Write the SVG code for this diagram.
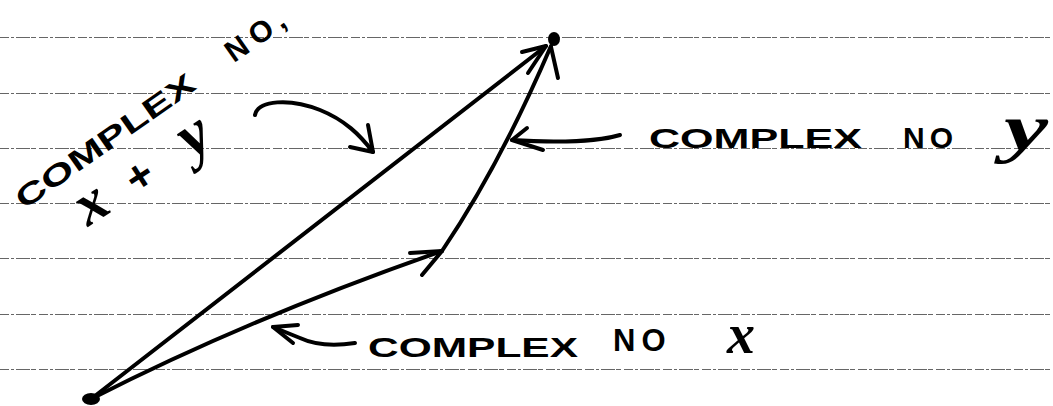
<svg xmlns="http://www.w3.org/2000/svg" width="1053" height="406" viewBox="0 0 1053 406">
  <style>
    .rule { stroke: #666; stroke-width: 1; stroke-dasharray: 9 2 3 2 14 1 5 3; fill: none; }
    .ink { stroke: #000; stroke-width: 4; fill: none; stroke-linecap: round; stroke-linejoin: round; }
    .lbl { font-family: "Liberation Sans", Arial, sans-serif; font-weight: bold; fill: #000; }
    .var { font-family: "Liberation Serif", "Times New Roman", serif; font-style: italic; font-weight: bold; fill: #000; }
  </style>
  <rect width="1053" height="406" fill="#fff"/>

  <g id="ruled-lines">
    <line class="rule" x1="0" y1="37.5" x2="1053" y2="37.5"/>
    <line class="rule" x1="0" y1="93.5" x2="1053" y2="93.5"/>
    <line class="rule" x1="0" y1="148.5" x2="1053" y2="148.5"/>
    <line class="rule" x1="0" y1="203.5" x2="1053" y2="203.5"/>
    <line class="rule" x1="0" y1="258.5" x2="1053" y2="258.5"/>
    <line class="rule" x1="0" y1="314.5" x2="1053" y2="314.5"/>
    <line class="rule" x1="0" y1="369.5" x2="1053" y2="369.5"/>
  </g>

  <g id="connectors">
    <!-- vector x+y -->
    <path class="ink" d="M91,399 Q300,238 546,46"/>
    <polyline class="ink" points="522,52 546,46 528,73"/>
    <!-- vector x -->
    <path class="ink" d="M91,399 Q250,318 442,251"/>
    <polyline class="ink" points="410,253 442,251 422,275"/>
    <!-- vector y -->
    <path class="ink" d="M442,251 Q500,165 551,46"/>
    <line class="ink" x1="551" y1="47" x2="558" y2="78"/>
    <!-- leader to y -->
    <path class="ink" d="M620,135 C600,141 560,143 512,140"/>
    <polyline class="ink" points="527,128 512,140 543,150"/>
    <!-- leader to x -->
    <path class="ink" d="M355,343 C335,346 315,345 300,338 Q285,332 273,327"/>
    <polyline class="ink" points="298,325 273,327 293,343"/>
    <!-- leader to x+y -->
    <path class="ink" d="M255,115 C258,100 290,98 320,110 C345,120 360,135 373,152"/>
    <polyline class="ink" points="368,125 373,152 350,147"/>
  </g>

  <g id="origin">
    <ellipse cx="91" cy="399" rx="9" ry="6" fill="#000"/>
  </g>
  <g id="tip">
    <ellipse cx="554" cy="39" rx="6" ry="7" fill="#000"/>
  </g>

  <g id="label-sum">
    <g transform="translate(24,210) rotate(-35)">
      <text class="lbl" style="font-size:29px" x="0" y="0" textLength="212" lengthAdjust="spacingAndGlyphs">COMPLEX</text>
      <text class="lbl" style="font-size:30px" x="256" y="0"><tspan style="letter-spacing:7px">NO</tspan><tspan x="314">,</tspan></text>
    </g>
    <g transform="translate(88,227) rotate(-33)">
      <text class="var" style="font-size:60px" x="0" y="0">x</text>
      <text class="lbl" style="font-size:44px" x="58" y="0">+</text>
      <text class="var" style="font-size:64px" x="124" y="0">y</text>
    </g>
  </g>

  <g id="label-y">
    <text class="lbl" style="font-size:27px" x="649" y="148" textLength="213" lengthAdjust="spacingAndGlyphs">COMPLEX</text>
    <text class="lbl" style="font-size:30px;letter-spacing:5px" x="903" y="148">NO</text>
    <text class="var" style="font-size:66px" x="1004" y="150" textLength="44" lengthAdjust="spacingAndGlyphs">y</text>
  </g>

  <g id="label-x">
    <text class="lbl" style="font-size:28px" x="368" y="357" textLength="210" lengthAdjust="spacingAndGlyphs">COMPLEX</text>
    <text class="lbl" style="font-size:31px;letter-spacing:6px" x="613" y="351">NO</text>
    <text class="var" style="font-size:56px" x="727" y="353">x</text>
  </g>
</svg>
